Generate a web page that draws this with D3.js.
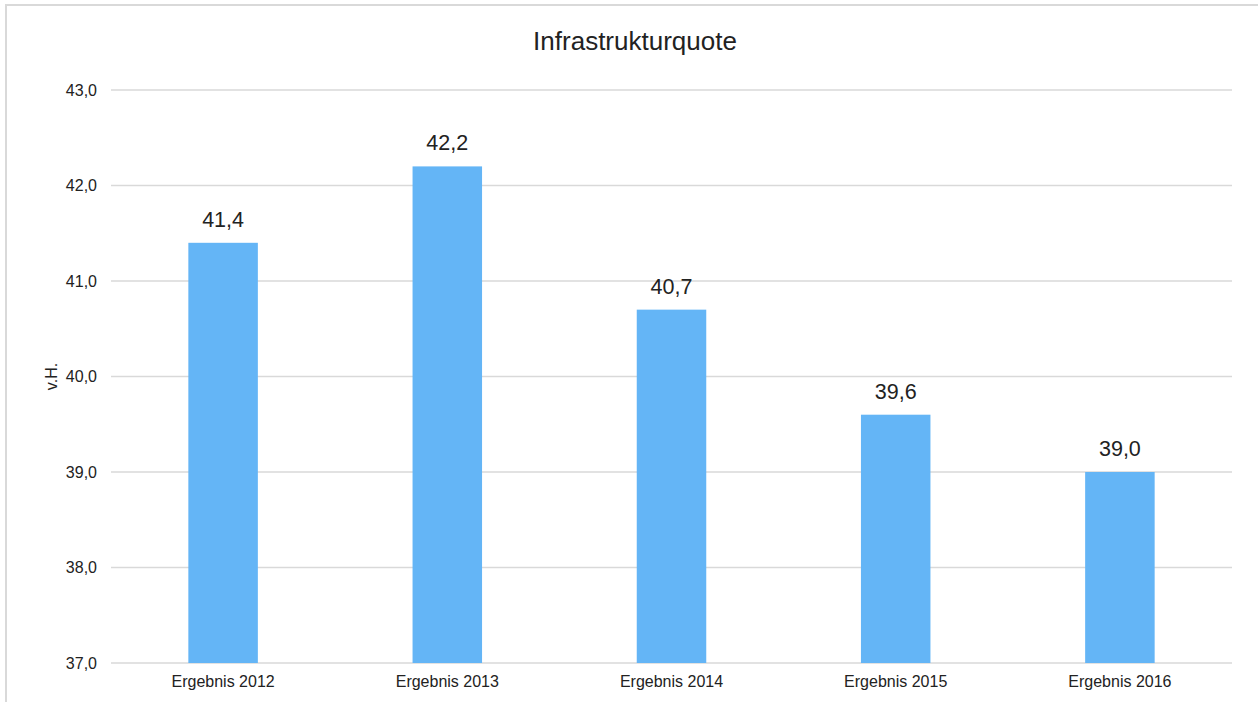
<!DOCTYPE html>
<html><head><meta charset="utf-8">
<script src="https://cdn.jsdelivr.net/npm/d3@7"></script>
<style>html,body{margin:0;padding:0;background:#fff;}svg{display:block;}</style>
</head><body>
<script>
const categories = ["Ergebnis 2012","Ergebnis 2013","Ergebnis 2014","Ergebnis 2015","Ergebnis 2016"];
const values = [41.4, 42.2, 40.7, 39.6, 39.0];
const yTicks = [37,38,39,40,41,42,43];
const title = "Infrastrukturquote";
const yTitle = "v.H.";

const W = 1258, H = 702;
const m = {left:111, right:1232, top:90, bottom:663};
const fmt = v => d3.format(".1f")(v).replace(".", ",");

const svg = d3.select("body").append("svg").attr("width", W).attr("height", H)
  .style("font-family", "Arial, 'Liberation Sans', sans-serif");

svg.append("rect").attr("x",6).attr("y",5).attr("width",W+10).attr("height",H+10)
  .attr("fill","#fff").attr("stroke","#d9d9d9").attr("stroke-width",2);

const x = d3.scaleBand().domain(categories).range([m.left, m.right]).paddingInner(0.69).paddingOuter(0.345);
const y = d3.scaleLinear().domain([37,43]).range([m.bottom, m.top]);

svg.append("g").selectAll("line").data(yTicks).join("line")
  .attr("x1", m.left).attr("x2", m.right)
  .attr("y1", d=>y(d)).attr("y2", d=>y(d))
  .attr("stroke","#d9d9d9").attr("stroke-width",1.5);

svg.append("g").selectAll("text").data(yTicks).join("text")
  .attr("x", 97).attr("y", d=>y(d)).attr("dy","0.35em")
  .attr("text-anchor","end").attr("font-size",16).attr("fill","#222")
  .text(d=>fmt(d));

svg.append("g").selectAll("rect").data(values).join("rect")
  .attr("x",(d,i)=>x(categories[i])).attr("width", x.bandwidth())
  .attr("y", d=>y(d)).attr("height", d=>y(37)-y(d))
  .attr("fill","#64B5F6");

svg.append("g").selectAll("text").data(values).join("text")
  .attr("x",(d,i)=>x(categories[i])+x.bandwidth()/2).attr("y", d=>y(d)-16)
  .attr("text-anchor","middle").attr("font-size",21.5).attr("fill","#222")
  .text(d=>fmt(d));

svg.append("g").selectAll("text").data(categories).join("text")
  .attr("x", d=>x(d)+x.bandwidth()/2).attr("y", 687)
  .attr("text-anchor","middle").attr("font-size",16).attr("fill","#222")
  .text(d=>d);

svg.append("text").attr("x", 635).attr("y", 50).attr("text-anchor","middle")
  .attr("font-size",26).attr("fill","#222").text(title);

svg.append("text").attr("transform",`translate(57,${(m.top+m.bottom)/2}) rotate(-90)`)
  .attr("text-anchor","middle").attr("font-size",16).attr("fill","#222").text(yTitle);
</script>
</body></html>
